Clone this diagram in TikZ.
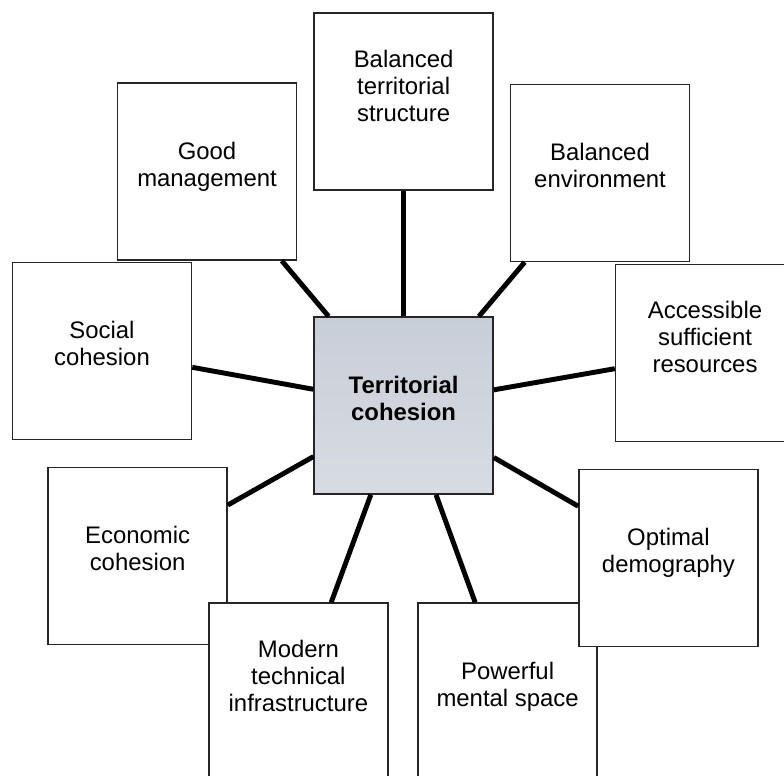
\documentclass[tikz,border=0pt]{standalone}
\usepackage{fontspec}
\setmainfont{Liberation Sans}
\usepackage{tikz}
\definecolor{coretop}{RGB}{200,206,216}
\definecolor{corebot}{RGB}{216,219,226}

\begin{document}
\begin{tikzpicture}[
		box/.style={draw=black!85, line width=1pt, fill=white, minimum width=4.475cm, minimum height=4.425cm, inner sep=0pt, align=center, text depth=0.375cm, font=\fontsize{17}{19.2}\selectfont},
		three lines/.style={text depth=0.8cm},
		core/.style={box, top color=coretop, bottom color=corebot, font=\fontsize{17}{19.2}\selectfont\bfseries},
		link/.style={line width=3.5pt, black}
	]
		%%%%% START %%%%%
		\useasboundingbox (0, 0) rectangle (19.6, 19.4);
		\clip (0, 0) rectangle (19.6, 19.4);
		
		% centre
		\node[core] (ctr) at (10.09, 9.26) {Territorial\\cohesion};
		
		% upper ring
		\node[box, three lines] (struct) at (10.09, 16.86) {Balanced\\territorial\\structure};
		\node[box] (manag) at (5.175, 15.11) {Good\\management};
		\node[box] (envir) at (15.0, 15.075) {Balanced\\environment};
		\node[box] (social) at (2.55, 10.625) {Social\\cohesion};
		\node[box, three lines] (resour) at (17.625, 10.575) {Accessible\\sufficient\\resources};
		
		% lower ring, later boxes lie over earlier ones
		\node[box] (econ) at (3.44, 5.5) {Economic\\cohesion};
		\node[box, three lines] (infra) at (7.46, 2.11) {Modern\\technical\\infrastructure};
		\node[box] (mental) at (12.69, 2.11) {Powerful\\mental space};
		\node[box] (demog) at (16.71, 5.45) {Optimal\\demography};
		
		% spokes
		\foreach \n in {struct, manag, envir, social, resour, econ, infra, mental, demog}
			\draw[link] (ctr) -- (\n);
		%%%%% END %%%%%
	\end{tikzpicture}
\end{document}
